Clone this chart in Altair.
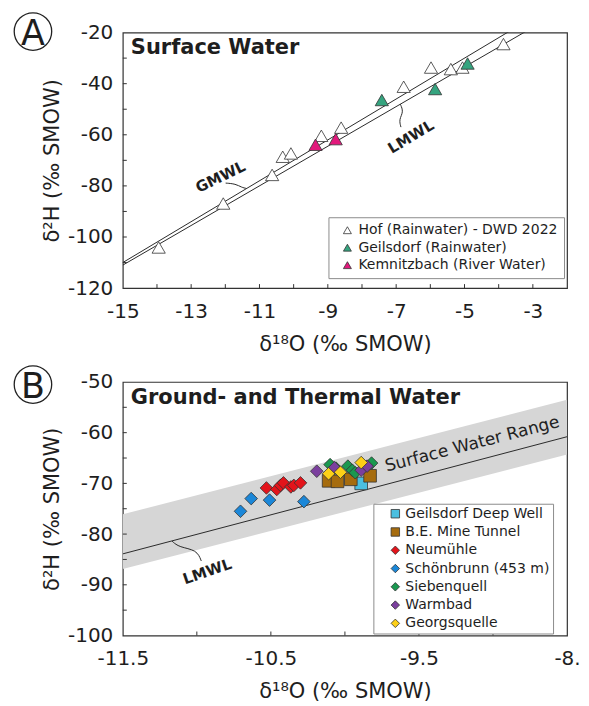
import altair as alt
import pandas as pd

FONT = "DejaVu Sans"
INK = "#1e1e1e"
W = 445
HA = 256
HB = 254

# ---------------- Panel A: Surface water ----------------
hof_x = [-13.95, -12.06, -10.63, -10.32, -10.08, -9.19, -8.61, -6.78, -5.98, -5.40, -5.06, -3.86]
hof_y = [-104.1, -86.9, -75.7, -68.6, -67.3, -60.4, -57.2, -41.2, -33.7, -34.3, -33.7, -24.5]
geil_rain_x = [-7.42, -5.86, -4.91]
geil_rain_y = [-46.4, -42.1, -32.1]
kemn_x = [-9.36, -8.77]
kemn_y = [-63.9, -61.7]
series_a = ["Hof (Rainwater) - DWD 2022", "Geilsdorf (Rainwater)", "Kemnitzbach (River Water)"]
colors_a = ["#ffffff", "#35a47f", "#e2197c"]

gmwl_x = [-15, -2]
gmwl_y = [-110, -6]
lmwl_a_x = [-15, -2]
lmwl_a_y = [-111.0, -10.2]

lead_gmwl_x = [-11.99, -11.70, -11.52, -11.38]
lead_gmwl_y = [-78.9, -79.2, -80.6, -81.0]
lead_lmwl_a_x = [-6.88, -6.78, -6.92, -6.86]
lead_lmwl_a_y = [-48.0, -51.0, -54.0, -57.0]

xlab_a = [-15, -13, -11, -9, -7, -5, -3]
ylab_a = [-120, -100, -80, -60, -40, -20]
xtick_a = [-14, -13, -12, -11, -10, -9, -8, -7, -6, -5, -4, -3]
ytick_a = [-110, -100, -90, -80, -70, -60, -50, -40, -30]

# ---------------- Panel B: Ground- and thermal water ----------------
geil_deep_x = [-9.89]
geil_deep_y = [-70.0]
be_x = [-10.11, -10.05, -9.96, -9.83]
be_y = [-69.5, -69.6, -69.2, -68.5]
neum_x = [-10.53, -10.46, -10.435, -10.415, -10.365, -10.345, -10.30]
neum_y = [-70.9, -71.2, -70.4, -69.9, -70.7, -70.4, -69.9]
schon_x = [-10.705, -10.633, -10.509, -10.277]
schon_y = [-75.5, -73.0, -73.3, -73.6]
sieben_x = [-10.10, -10.06, -9.98, -9.95, -9.93, -9.82]
sieben_y = [-66.3, -67.0, -66.6, -67.4, -67.9, -66.0]
warm_x = [-10.19, -10.07, -9.89, -9.85]
warm_y = [-67.6, -66.9, -67.4, -66.6]
georg_x = [-10.11, -10.03, -9.89]
georg_y = [-68.1, -67.8, -65.9]
series_b = ["Geilsdorf Deep Well", "B.E. Mine Tunnel", "Neumühle", "Schönbrunn (453 m)",
            "Siebenquell", "Warmbad", "Georgsquelle"]
colors_b = ["#4bbfe0", "#a66c0e", "#e3141b", "#1b87d8", "#1a9850", "#7b3f9e", "#fdd017"]
shapes_b = ["square", "square", "diamond", "diamond", "diamond", "diamond", "diamond"]

band_x = [-11.5, -8.5]
band_hi = [-76.1, -53.5]
band_lo = [-86.9, -64.3]
lmwl_b_x = [-11.5, -8.5]
lmwl_b_y = [-83.9, -60.8]
lead_lmwl_b_x = [-11.167, -11.12, -11.0, -10.97]
lead_lmwl_b_y = [-81.4, -82.6, -83.1, -85.3]

xlab_b = [-11.5, -10.5, -9.5, -8.5]
ylab_b = [-100, -90, -80, -70, -60, -50]
xtick_b = [-11.0, -10.5, -10.0, -9.5, -9.0]
ytick_b = [-95, -90, -85, -80, -75, -70, -65, -60, -55]

LBL = "replace(datum.label, '\u2212', '-')"
# the rightmost B label is cut at the figure edge in the original
LBL_B = "datum.value == -8.5 ? '-8.' : replace(datum.label, '\u2212', '-')"


def xenc(domain, values, fmt, expr):
    return alt.X("x:Q", scale=alt.Scale(domain=domain, nice=False, zero=False),
                 axis=alt.Axis(values=values, format=fmt, title="δ¹⁸O (‰ SMOW)", grid=False,
                               ticks=False, domain=False, labelFlush=False, labelOverlap=False,
                               labelPadding=13, labelFontSize=20, titleFontSize=21,
                               titlePadding=12, labelExpr=expr))


def yenc(domain, values):
    return alt.Y("y:Q", scale=alt.Scale(domain=domain, nice=False, zero=False),
                 axis=alt.Axis(values=values, format="d", title="δ²H (‰ SMOW)", grid=False,
                               ticks=False, domain=False, labelFlush=False, labelOverlap=False,
                               labelPadding=10, labelFontSize=20, titleFontSize=21,
                               titlePadding=5, labelExpr=LBL))


def line_df(xs, ys, ident):
    return pd.DataFrame({"x": xs, "y": ys, "id": ident, "o": list(range(len(xs)))})


def pts_df(xss, yss, names):
    rows = []
    for xs, ys, n in zip(xss, yss, names):
        for a, b in zip(xs, ys):
            rows.append({"x": a, "y": b, "s": n})
    df = pd.DataFrame(rows)
    df["o"] = range(len(df))
    return df


one = pd.DataFrame({"k": [0]})


def decorations(H, title, letter, letter_dy, xt, yt, X, Y):
    ticks_x = alt.Chart(pd.DataFrame({"x": xt})).mark_rule(color="#333", strokeWidth=1).encode(
        x=X, y=alt.value(H), y2=alt.value(H - 4))
    ticks_y = alt.Chart(pd.DataFrame({"y": yt})).mark_rule(color="#333", strokeWidth=1).encode(
        y=Y, x=alt.value(0), x2=alt.value(4))
    ttl = alt.Chart(one).mark_text(align="left", baseline="alphabetic", fontSize=21,
                                   fontWeight="bold", font=FONT, color=INK).encode(
        x=alt.value(8), y=alt.value(21.6), text=alt.value(title))
    circ = alt.Chart(one).mark_point(shape="circle", size=1410, filled=False, stroke="#222",
                                     strokeWidth=1.3, opacity=1).encode(
        x=alt.value(-90), y=alt.value(letter_dy))
    let = alt.Chart(one).mark_text(fontSize=35, font=FONT, color=INK, baseline="middle", dy=2).encode(
        x=alt.value(-90), y=alt.value(letter_dy), text=alt.value(letter))
    return [ticks_x, ticks_y, ttl, circ, let]


def legend(lx, ly, pad, soff, loff, rpad, ssize):
    return alt.Legend(title=None, orient="none", legendX=lx, legendY=ly, fillColor="white",
                      strokeColor="#8c8c8c", padding=pad, symbolOffset=soff, labelOffset=loff,
                      rowPadding=rpad, labelFontSize=14, labelFont=FONT, labelColor=INK,
                      labelLimit=400, symbolSize=ssize, symbolStrokeWidth=0.8, symbolOpacity=1)


# ---------- Panel A ----------
XA = xenc([-15, -2], xlab_a, "d", LBL)
YA = yenc([-120, -20], ylab_a)

lines_a = pd.concat([line_df(gmwl_x, gmwl_y, "g"), line_df(lmwl_a_x, lmwl_a_y, "l")])
leads_a = pd.concat([line_df(lead_gmwl_x, lead_gmwl_y, "g"), line_df(lead_lmwl_a_x, lead_lmwl_a_y, "l")])
pa = pts_df([hof_x, geil_rain_x, kemn_x], [hof_y, geil_rain_y, kemn_y], series_a)

legA = legend(206, 185, 6, 6, 4, 3.5, 64)

a_lines = alt.Chart(lines_a).mark_line(color="#2a2a2a", strokeWidth=1, clip=True).encode(
    x=XA, y=YA, detail="id:N", order="o:Q")
a_leads = alt.Chart(leads_a).mark_line(color="#2a2a2a", strokeWidth=1, interpolate="basis").encode(
    x=XA, y=YA, detail="id:N", order="o:Q")
a_labels = alt.Chart(pd.DataFrame({"x": [-12.14, -6.57], "y": [-76.5, -60.8],
                                   "t": ["GMWL", "LMWL"], "ang": [334, 329]})).mark_text(
    fontSize=15, fontWeight="bold", font=FONT, color=INK).encode(
    x=XA, y=YA, text="t:N", angle=alt.Angle("ang:Q", scale=None))
a_pts = alt.Chart(pa).mark_point(filled=True, size=175, strokeWidth=0.8, opacity=1).encode(
    x=XA, y=YA,
    fill=alt.Fill("s:N", scale=alt.Scale(domain=series_a, range=colors_a), legend=legA),
    shape=alt.Shape("s:N", scale=alt.Scale(domain=series_a, range=["triangle-up"] * 3), legend=legA),
    stroke=alt.Stroke("s:N", scale=alt.Scale(domain=series_a, range=["#333"] * 3), legend=legA),
    order="o:Q")

panelA = alt.layer(a_lines, a_leads, a_labels, a_pts,
                   *decorations(HA, "Surface Water", "A", -1, xtick_a, ytick_a, XA, YA)
                   ).properties(width=W, height=HA)

# ---------- Panel B ----------
XB = xenc([-11.5, -8.5], xlab_b, ".1f", LBL_B)
YB = yenc([-100, -50], ylab_b)

band = pd.DataFrame({"x": band_x, "y": band_hi, "y2": band_lo})
pb = pts_df([geil_deep_x, be_x, neum_x, schon_x, sieben_x, warm_x, georg_x],
            [geil_deep_y, be_y, neum_y, schon_y, sieben_y, warm_y, georg_y], series_b)

legB = legend(251, 122, 3, 12, 3, 4.3, 72)

b_band = alt.Chart(band).mark_area(color="#d6d6d6", clip=True).encode(
    x=XB, y=YB, y2=alt.Y2("y2:Q"))
b_line = alt.Chart(line_df(lmwl_b_x, lmwl_b_y, "l")).mark_line(color="#2a2a2a", strokeWidth=1, clip=True).encode(
    x=XB, y=YB, order="o:Q")
b_lead = alt.Chart(line_df(lead_lmwl_b_x, lead_lmwl_b_y, "l")).mark_line(
    color="#2a2a2a", strokeWidth=1, interpolate="basis").encode(x=XB, y=YB, order="o:Q")
b_lab = alt.Chart(pd.DataFrame({"x": [-10.93], "y": [-87.4], "t": ["LMWL"]})).mark_text(
    fontSize=15, fontWeight="bold", font=FONT, color=INK, angle=341).encode(x=XB, y=YB, text="t:N")
b_range = alt.Chart(pd.DataFrame({"x": [-9.14], "y": [-62.3], "t": ["Surface Water Range"]})).mark_text(
    fontSize=17, font=FONT, color="#222", angle=345.5).encode(x=XB, y=YB, text="t:N")
b_pts = alt.Chart(pb).mark_point(filled=True, size=160, strokeWidth=0.8, opacity=1).encode(
    x=XB, y=YB,
    fill=alt.Fill("s:N", scale=alt.Scale(domain=series_b, range=colors_b), legend=legB),
    shape=alt.Shape("s:N", scale=alt.Scale(domain=series_b, range=shapes_b), legend=legB),
    stroke=alt.Stroke("s:N", scale=alt.Scale(domain=series_b, range=["#333"] * 7), legend=legB),
    order="o:Q")

panelB = alt.layer(b_band, b_line, b_lead, b_lab, b_range, b_pts,
                   *decorations(HB, "Ground- and Thermal Water", "B", 2.6, xtick_b, ytick_b, XB, YB)
                   ).properties(width=W, height=HB)

chart = alt.vconcat(panelA, panelB, spacing=7).resolve_scale(
    x="independent", y="independent", fill="independent", shape="independent", stroke="independent"
).resolve_legend(fill="independent", shape="independent", stroke="independent").properties(
    padding={"left": 3, "top": 1, "right": 0, "bottom": 0}
).configure_view(stroke="#333", strokeWidth=1.2).configure_axis(
    labelFont=FONT, titleFont=FONT, labelColor=INK, titleColor=INK, titleFontWeight="normal"
)

chart.save("out.html", embed_options={"renderer": "svg", "actions": False})
